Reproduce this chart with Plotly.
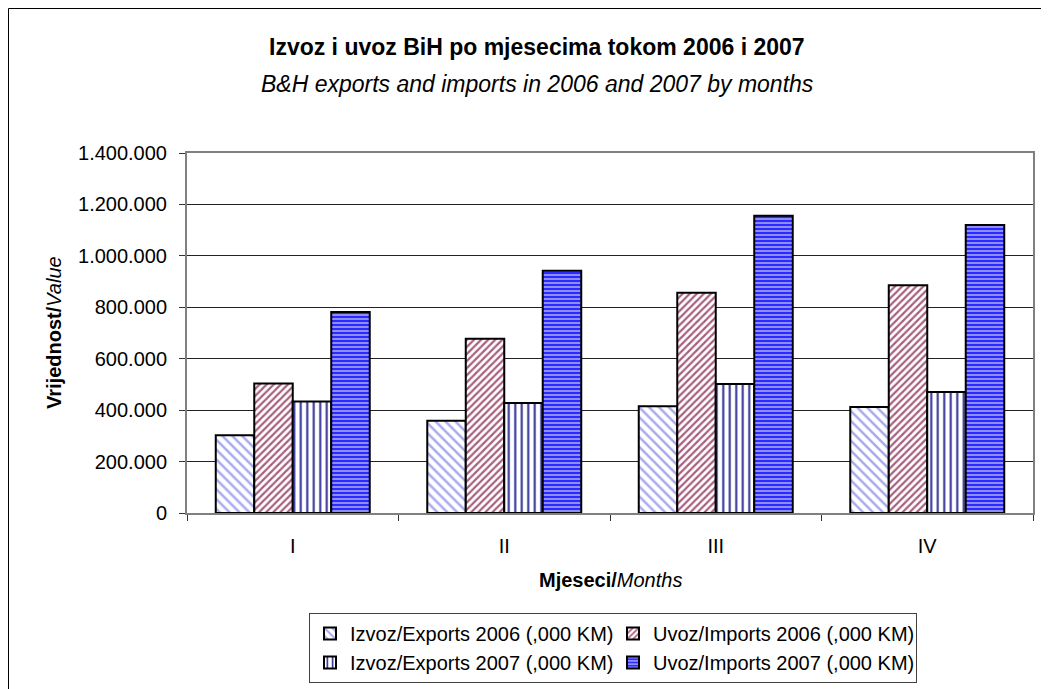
import plotly.graph_objects as go

# ---- data (thousand KM) ----
months = ["I", "II", "III", "IV"]
exports_2006 = [302000, 359000, 415000, 412000]
imports_2006 = [504000, 678000, 857000, 886000]
exports_2007 = [434000, 428000, 502000, 471000]
imports_2007 = [782000, 942000, 1156000, 1120000]
series_names = [
    "Izvoz/Exports 2006 (,000 KM)",
    "Uvoz/Imports 2006 (,000 KM)",
    "Izvoz/Exports 2007 (,000 KM)",
    "Uvoz/Imports 2007 (,000 KM)",
]
y_ticks = [0, 200000, 400000, 600000, 800000, 1000000, 1200000, 1400000]

FONT = "Liberation Sans, Arial, sans-serif"

# page geometry (the page body has an 8px margin)
OFF = 8
W, H = 1049, 689
L, R, T, B = 187, 1033, 153, 513   # plot area in page pixels
PW, PH = R - L, B - T


def px(x):
    return (x - L) / PW


def py(y):
    return (B - y) / PH


styles = [
    dict(shape="\\", fgcolor="#A8A8F0", bgcolor="#FFFFFF", size=7, solidity=0.35),
    dict(shape="/", fgcolor="#A8607E", bgcolor="#FFFFFF", size=5, solidity=0.45),
    dict(shape="|", fgcolor="#333399", bgcolor="#FFFFFF", size=6.5, solidity=0.32),
    dict(shape="-", fgcolor="#B8B8FF", bgcolor="#2B2BFF", size=4, solidity=0.35),
]

fig = go.Figure()
for name, vals, st in zip(series_names,
                          [exports_2006, imports_2006, exports_2007, imports_2007],
                          styles):
    fig.add_trace(go.Bar(
        x=months, y=vals, name=name,
        marker=dict(color=st["bgcolor"],
                    line=dict(color="#000000", width=2),
                    pattern=dict(shape=st["shape"], fgcolor=st["fgcolor"],
                                 bgcolor=st["bgcolor"], size=st["size"],
                                 solidity=st["solidity"], fillmode="replace")),
        hoverinfo="x+y+name",
    ))

fig.update_layout(
    width=W, height=H,
    margin=dict(l=L - OFF, r=W - (R - OFF), t=T - OFF, b=H - (B - OFF), autoexpand=False),
    paper_bgcolor="white", plot_bgcolor="white",
    separators=",.",
    font=dict(family=FONT, size=20, color="#000000"),
    barmode="group", bargap=0.272, bargroupgap=0,
    showlegend=True,
    legend=dict(
        orientation="h", x=px(309), y=py(613), xanchor="left", yanchor="top",
        entrywidth=258, entrywidthmode="pixels",
        bordercolor="#404040", borderwidth=1, bgcolor="white",
        font=dict(family=FONT, size=20), traceorder="normal",
        tracegroupgap=0, itemsizing="constant",
    ),
    xaxis=dict(
        showgrid=False, showline=True, linecolor="#808080", linewidth=2, mirror=True,
        ticks="outside", tickson="boundaries", ticklen=6, tickcolor="#333333",
        tickfont=dict(size=20), ticklabelstandoff=14,
    ),
    yaxis=dict(
        range=[0, 1400000], tickvals=y_ticks, tickformat=",d",
        showgrid=True, gridcolor="#222222", gridwidth=1,
        showline=True, linecolor="#808080", linewidth=2, mirror=True,
        ticks="outside", ticklen=6, tickcolor="#333333", zeroline=False,
        tickfont=dict(size=20), ticklabelstandoff=8,
    ),
    annotations=[
        dict(text="<b>Izvoz i uvoz BiH po mjesecima tokom 2006 i 2007</b>",
             x=px(537), y=py(47), xref="paper", yref="paper", showarrow=False,
             xanchor="center", yanchor="middle", font=dict(size=23)),
        dict(text="<i>B&H exports and imports in 2006 and 2007 by months</i>",
             x=px(537), y=py(84), xref="paper", yref="paper", showarrow=False,
             xanchor="center", yanchor="middle", font=dict(size=23)),
        dict(text="<b>Vrijednost/</b><i>Value</i>", textangle=-90,
             x=px(54), y=0.5, xref="paper", yref="paper", showarrow=False,
             xanchor="center", yanchor="middle", font=dict(size=20)),
        dict(text="<b>Mjeseci/</b><i>Months</i>",
             x=0.5, y=py(580), xref="paper", yref="paper", showarrow=False,
             xanchor="center", yanchor="middle", font=dict(size=20)),
    ],
    shapes=[
        dict(type="rect", xref="paper", yref="paper",
             x0=px(8.5), x1=px(1048.5), y0=py(720), y1=py(8.5),
             line=dict(color="#000000", width=1), fillcolor="rgba(0,0,0,0)",
             layer="below"),
    ],
)

fig.write_html("out.html")
